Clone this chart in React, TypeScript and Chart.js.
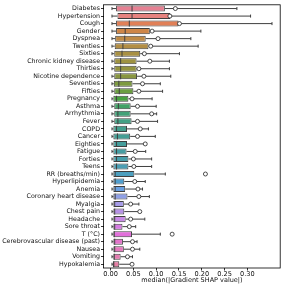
import React, { useEffect, useRef } from "react";
import { Chart, registerables } from "chart.js";

Chart.register(...registerables);

const features = [
  "Diabetes", "Hypertension", "Cough", "Gender", "Dyspnea", "Twenties", "Sixties",
  "Chronic kidney disease", "Thirties", "Nicotine dependence", "Seventies", "Fifties",
  "Pregnancy", "Asthma", "Arrhythmia", "Fever", "COPD", "Cancer", "Eighties", "Fatigue",
  "Forties", "Teens", "RR (breaths/min)", "Hyperlipidemia", "Anemia",
  "Coronary heart disease", "Myalgia", "Chest pain", "Headache", "Sore throat", "T (°C)",
  "Cerebrovascular disease (past)", "Nausea", "Vomiting", "Hypokalemia",
];

const whiskerLow = [
  0.003, 0.003, 0.003, 0.003, 0.003, 0.003, 0.003, 0.003, 0.003, 0.003, 0.003, 0.003,
  0.003, 0.003, 0.003, 0.003, 0.003, 0.003, 0.003, 0.003, 0.003, 0.003, 0.003, 0.003,
  0.003, 0.003, 0.003, 0.003, 0.003, 0.003, 0.003, 0.003, 0.003, 0.003, 0.003,
];

const q1 = [
  0.012, 0.015, 0.012, 0.012, 0.010, 0.009, 0.008, 0.008, 0.008, 0.008, 0.007, 0.008,
  0.006, 0.008, 0.008, 0.008, 0.006, 0.006, 0.006, 0.006, 0.006, 0.006, 0.006, 0.006,
  0.006, 0.006, 0.006, 0.006, 0.006, 0.006, 0.006, 0.006, 0.006, 0.006, 0.005,
];

const medians = [
  0.047, 0.047, 0.041, 0.032, 0.031, 0.027, 0.025, 0.022, 0.022, 0.022, 0.018, 0.019,
  0.013, 0.017, 0.016, 0.016, 0.013, 0.015, 0.013, 0.013, 0.013, 0.013, 0.010, 0.010,
  0.010, 0.010, 0.009, 0.009, 0.009, 0.009, 0.008, 0.009, 0.009, 0.008, 0.007,
];

const q3 = [
  0.119, 0.131, 0.149, 0.086, 0.077, 0.083, 0.065, 0.057, 0.057, 0.058, 0.048, 0.050,
  0.039, 0.044, 0.044, 0.046, 0.036, 0.043, 0.036, 0.035, 0.039, 0.039, 0.052, 0.030,
  0.032, 0.037, 0.029, 0.030, 0.033, 0.026, 0.047, 0.027, 0.029, 0.022, 0.019,
];

const whiskerHigh = [
  0.277, 0.307, 0.354, 0.198, 0.176, 0.192, 0.151, 0.129, 0.129, 0.132, 0.109, 0.114,
  0.091, 0.100, 0.101, 0.103, 0.083, 0.098, 0.078, 0.077, 0.090, 0.090, 0.120, 0.076,
  0.070, 0.085, 0.062, 0.063, 0.075, 0.055, 0.109, 0.058, 0.064, 0.048, 0.047,
];

const means = [
  0.142, 0.130, 0.151, 0.091, 0.104, 0.088, 0.074, 0.086, 0.062, 0.073, 0.070, 0.062,
  0.047, 0.059, 0.090, 0.059, 0.065, 0.059, 0.076, 0.054, 0.050, 0.051, 0.208, 0.053,
  0.060, 0.062, 0.044, 0.064, 0.044, 0.041, 0.135, 0.048, 0.048, 0.037, 0.047,
];

const xTicks = [0, 0.05, 0.1, 0.15, 0.2, 0.25, 0.3];
const xMin = -0.0156;
const xMax = 0.372;
const xTitle = "median(|Gradient SHAP value|)";

// ---- HUSL palette (as used by seaborn) ----
const M = [
  [3.2406, -1.5372, -0.4986],
  [-0.9689, 1.8758, 0.0415],
  [0.0557, -0.204, 1.057],
];
function maxChroma(L: number, H: number) {
  const hrad = (H * Math.PI) / 180;
  const sinH = Math.sin(hrad);
  const cosH = Math.cos(hrad);
  const sub1 = Math.pow(L + 16, 3) / 1560896;
  const sub2 = sub1 > 0.008856 ? sub1 : L / 903.3;
  let result = Infinity;
  for (const [m1, m2, m3] of M) {
    const top = (0.99915 * m1 + 1.05122 * m2 + 1.1446 * m3) * sub2;
    const rbottom = 0.8633 * m3 - 0.17266 * m2;
    const lbottom = 0.12949 * m3 - 0.38848 * m1;
    const bottom = (rbottom * sinH + lbottom * cosH) * sub2;
    for (const t of [0, 1]) {
      const C = (L * (top - 1.05122 * t)) / (bottom + 0.17266 * sinH * t);
      if (C > 0 && C < result) result = C;
    }
  }
  return result;
}
function fInv(t: number) {
  return Math.pow(t, 3) > 0.008856 ? Math.pow(t, 3) : (116 * t - 16) / 903.3;
}
function fromLinear(c: number) {
  return c <= 0.0031308 ? 12.92 * c : 1.055 * Math.pow(c, 1 / 2.4) - 0.055;
}
function huslToRgb(H: number, S: number, L: number) {
  const C = (maxChroma(L, H) / 100) * S;
  const hr = (H * Math.PI) / 180;
  const U = Math.cos(hr) * C;
  const V = Math.sin(hr) * C;
  const Y = fInv((L + 16) / 116);
  const varU = U / (13 * L) + 0.19784;
  const varV = V / (13 * L) + 0.46834;
  const X = 0 - (9 * Y * varU) / ((varU - 4) * varV - varU * varV);
  const Z = (9 * Y - 15 * varV * Y - varV * X) / (3 * varV);
  return M.map((r) => fromLinear(r[0] * X + r[1] * Y + r[2] * Z)).map((v) =>
    Math.min(1, Math.max(0, v))
  );
}
function rgbToHls(r: number, g: number, b: number) {
  const maxc = Math.max(r, g, b);
  const minc = Math.min(r, g, b);
  const l = (minc + maxc) / 2;
  if (minc === maxc) return [0, l, 0];
  const s = l <= 0.5 ? (maxc - minc) / (maxc + minc) : (maxc - minc) / (2 - maxc - minc);
  const rc = (maxc - r) / (maxc - minc);
  const gc = (maxc - g) / (maxc - minc);
  const bc = (maxc - b) / (maxc - minc);
  let h;
  if (r === maxc) h = bc - gc;
  else if (g === maxc) h = 2 + rc - bc;
  else h = 4 + gc - rc;
  h = ((h / 6) % 1 + 1) % 1;
  return [h, l, s];
}
function hv(m1: number, m2: number, hue: number) {
  hue = ((hue % 1) + 1) % 1;
  if (hue < 1 / 6) return m1 + (m2 - m1) * hue * 6;
  if (hue < 0.5) return m2;
  if (hue < 2 / 3) return m1 + (m2 - m1) * (2 / 3 - hue) * 6;
  return m1;
}
function hlsToRgb(h: number, l: number, s: number) {
  if (s === 0) return [l, l, l];
  const m2 = l <= 0.5 ? l * (1 + s) : l + s - l * s;
  const m1 = 2 * l - m2;
  return [hv(m1, m2, h + 1 / 3), hv(m1, m2, h), hv(m1, m2, h - 1 / 3)];
}
function toCss(c: number[]) {
  return `rgb(${Math.round(c[0] * 255)},${Math.round(c[1] * 255)},${Math.round(c[2] * 255)})`;
}
function makePalette(n: number) {
  const out: number[][] = [];
  for (let i = 0; i < n; i++) {
    let h = i / n + 0.01;
    h = (h % 1) * 359;
    const rgb = huslToRgb(h, 0.9 * 99, 0.65 * 99);
    const [hh, ll, ss] = rgbToHls(rgb[0], rgb[1], rgb[2]);
    out.push(hlsToRgb(hh, ll, ss * 0.75));
  }
  return out;
}

const FONT = "'DejaVu Sans', sans-serif";

export default function App() {
  const ref = useRef<HTMLCanvasElement | null>(null);

  useEffect(() => {
    const canvas = ref.current;
    if (!canvas) return;
    const pal = makePalette(features.length);
    const lum = Math.min(...pal.map((c) => rgbToHls(c[0], c[1], c[2])[1])) * 0.6;
    const gray = toCss([lum, lum, lum]);
    const colors = pal.map(toCss);

    const boxPlugin = {
      id: "boxParts",
      beforeDatasetsDraw(chart: any) {
        const { ctx, scales } = chart;
        const x = scales.x;
        const y = scales.y;
        const half = (y.getPixelForValue(1) - y.getPixelForValue(0)) * 0.8 * 0.25;
        ctx.save();
        ctx.strokeStyle = gray;
        ctx.lineWidth = 1;
        features.forEach((_, i) => {
          const yc = y.getPixelForValue(i);
          const lo = x.getPixelForValue(whiskerLow[i]);
          const a = x.getPixelForValue(q1[i]);
          const b = x.getPixelForValue(q3[i]);
          const hi = x.getPixelForValue(whiskerHigh[i]);
          ctx.beginPath();
          ctx.moveTo(lo, yc);
          ctx.lineTo(a, yc);
          ctx.moveTo(b, yc);
          ctx.lineTo(hi, yc);
          ctx.moveTo(lo, yc - half);
          ctx.lineTo(lo, yc + half);
          ctx.moveTo(hi, yc - half);
          ctx.lineTo(hi, yc + half);
          ctx.stroke();
        });
        ctx.restore();
      },
      afterDatasetDraw(chart: any, args: any) {
        if (args.index !== 0) return;
        const { ctx, scales } = chart;
        const x = scales.x;
        const y = scales.y;
        const half = (y.getPixelForValue(1) - y.getPixelForValue(0)) * 0.8 * 0.5;
        ctx.save();
        ctx.strokeStyle = gray;
        ctx.lineWidth = 1;
        features.forEach((_, i) => {
          const yc = y.getPixelForValue(i);
          const m = x.getPixelForValue(medians[i]);
          ctx.beginPath();
          ctx.moveTo(m, yc - half);
          ctx.lineTo(m, yc + half);
          ctx.stroke();
        });
        ctx.restore();
      },
      afterDraw(chart: any) {
        const { ctx, chartArea } = chart;
        ctx.save();
        ctx.strokeStyle = "#000";
        ctx.lineWidth = 0.8;
        ctx.strokeRect(
          chartArea.left,
          chartArea.top,
          chartArea.right - chartArea.left,
          chartArea.bottom - chartArea.top
        );
        ctx.restore();
      },
    };

    const chart = new Chart(canvas, {
      type: "bar",
      data: {
        labels: features,
        datasets: [
          {
            type: "bar",
            data: features.map((_, i) => [q1[i], q3[i]]) as any,
            backgroundColor: colors,
            borderColor: gray,
            borderWidth: 1,
            borderSkipped: false,
            categoryPercentage: 0.8,
            barPercentage: 1,
            order: 2,
          } as any,
          {
            type: "line",
            indexAxis: "y",
            data: means,
            showLine: false,
            pointStyle: "circle",
            pointRadius: 2,
            pointBackgroundColor: "#fff",
            pointBorderColor: "#222",
            pointBorderWidth: 0.8,
            order: 1,
          } as any,
        ],
      },
      options: {
        indexAxis: "y",
        responsive: false,
        animation: false,
        devicePixelRatio: 1,
        layout: { padding: { top: 2, right: 3, left: 0, bottom: 0 } },
        plugins: {
          legend: { display: false },
          tooltip: { enabled: false },
        },
        scales: {
          x: {
            type: "linear",
            min: xMin,
            max: xMax,
            afterFit: (s: any) => {
              s.height = 19;
            },
            afterBuildTicks: (s: any) => {
              s.ticks = xTicks.map((v) => ({ value: v }));
            },
            ticks: {
              font: { family: FONT, size: 6.6 },
              color: "#111",
              padding: 0,
              maxRotation: 0,
              callback: (v: any) => Number(v).toFixed(2),
            },
            grid: {
              drawOnChartArea: false,
              drawTicks: true,
              tickLength: 2.5,
              color: "#000",
              lineWidth: 0.8,
            },
            border: { display: false },
            title: {
              display: true,
              text: xTitle,
              font: { family: FONT, size: 6.5 },
              color: "#111",
              padding: { top: 0, bottom: 2.5 },
            },
          },
          y: {
            type: "category",
            afterFit: (s: any) => {
              s.width = 103.5;
            },
            ticks: {
              font: { family: FONT, size: 6.3 },
              color: "#111",
              padding: 1,
              autoSkip: false,
            },
            grid: {
              offset: false,
              drawOnChartArea: false,
              drawTicks: true,
              tickLength: 2.5,
              color: "#000",
              lineWidth: 0.8,
            },
            border: { display: false },
          },
        },
      },
      plugins: [boxPlugin],
    } as any);
    return () => chart.destroy();
  }, []);

  return (
    <div style={{ position: "absolute", left: 0, top: 0, width: 285, height: 287, background: "#fff" }}>
      <canvas ref={ref} width={285} height={287} />
    </div>
  );
}
